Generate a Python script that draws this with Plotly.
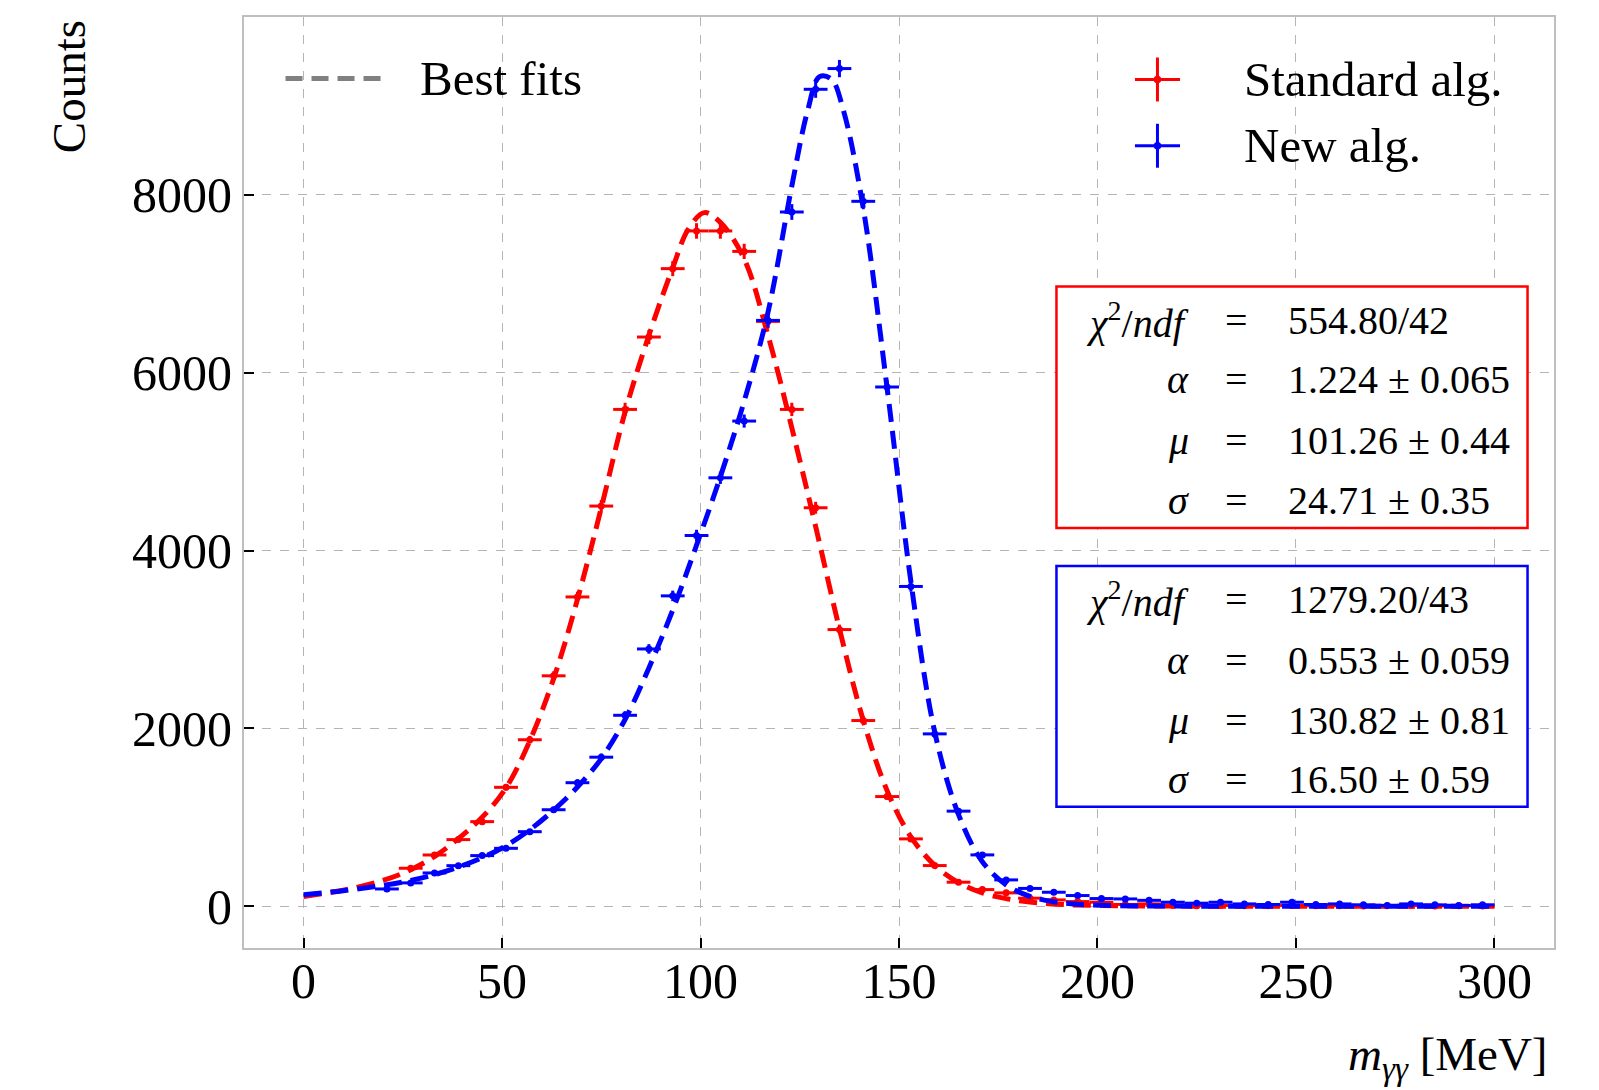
import numpy as np
import plotly.graph_objects as go

# ---------------- data ----------------
red_x = [27, 33, 39, 45, 51, 57, 63, 69, 75, 81, 87, 93, 99, 105, 111, 117, 123, 129, 135, 141,
         147, 153, 159, 165, 171, 177, 183, 189, 195, 201, 207, 213, 219, 225, 231, 237, 243, 249,
         255, 261, 267, 273, 279, 285, 291, 297]
red_counts = [427, 576, 749, 951, 1337, 1872, 2591, 3478, 4500, 5587, 6401, 7170, 7594, 7594, 7364,
              6577, 5587, 4481, 3111, 2088, 1233, 757, 457, 270, 187, 150, 90, 71, 52, 45, 20, 26,
              8, 6, 8, 4, 6, 8, 4, 6, 3, 5, 8, 3, 4, 2]

blue_x = [21, 27, 33, 39, 45, 51, 57, 63, 69, 75, 81, 87, 93, 99, 105, 111, 117, 123, 129, 135,
          141, 147, 153, 159, 165, 171, 177, 183, 189, 195, 201, 207, 213, 219, 225, 231, 237, 243,
          249, 255, 261, 267, 273, 279, 285, 291, 297]
blue_counts = [194, 262, 374, 456, 569, 651, 838, 1085, 1389, 1676, 2147, 2893, 3490, 4169, 4818,
               5456, 6588, 7807, 9187, 9420, 7927, 5839, 3596, 1938, 1069, 577, 296, 200, 157, 120,
               86, 82, 66, 45, 34, 45, 26, 19, 45, 19, 26, 15, 8, 26, 15, 8, 15]

bin_half_width = 3  # MeV

# best-fit curves
red_fit_x = [0, 10, 20, 27, 33, 39, 45, 51, 57, 63, 69, 75, 81, 87, 93, 97, 101, 105, 111, 117,
             123, 129, 135, 141, 147, 153, 159, 165, 171, 177, 183, 190, 200, 215, 240, 270, 300]
red_fit_y = [110, 180, 290, 410, 560, 760, 1000, 1330, 1860, 2560, 3450, 4480, 5560, 6420, 7180,
             7620, 7800, 7690, 7280, 6420, 5380, 4270, 3120, 2090, 1300, 780, 460, 265, 150, 85,
             48, 22, 8, 2, 0, 0, 0]

blue_fit_x = [0, 10, 20, 27, 33, 39, 45, 51, 57, 63, 69, 75, 81, 87, 93, 99, 105, 111, 117, 123,
              127, 130, 133, 136, 141, 147, 153, 159, 165, 171, 177, 183, 189, 195, 205, 220, 250, 300]
blue_fit_y = [130, 175, 235, 290, 355, 440, 545, 680, 860, 1080, 1340, 1660, 2100, 2680, 3330,
              4060, 4830, 5680, 6680, 8100, 8950, 9330, 9300, 8950, 7850, 5830, 3650, 1960, 1030,
              500, 240, 110, 50, 22, 6, 1, 0, 0]

x_ticks = [0, 50, 100, 150, 200, 250, 300]
y_ticks = [0, 2000, 4000, 6000, 8000]

red_stats = [("<i>χ</i><sup>2</sup>/<i>ndf</i>", "554.80/42"),
             ("<i>α</i>", "1.224 ± 0.065"),
             ("<i>μ</i>", "101.26 ± 0.44"),
             ("<i>σ</i>", "24.71 ± 0.35")]
blue_stats = [("<i>χ</i><sup>2</sup>/<i>ndf</i>", "1279.20/43"),
              ("<i>α</i>", "0.553 ± 0.059"),
              ("<i>μ</i>", "130.82 ± 0.81"),
              ("<i>σ</i>", "16.50 ± 0.59")]

# ---------------- figure ----------------
FONT = "Liberation Serif"
RED = "#ff0000"
BLUE = "#0000ff"

fig = go.Figure()


def add_points(x, y, color, name):
    fig.add_trace(go.Scatter(
        x=x, y=y, mode="markers", name=name,
        marker=dict(color=color, size=7),
        error_x=dict(type="constant", value=bin_half_width, thickness=3, width=0, color=color),
        error_y=dict(type="data", array=np.sqrt(np.array(y, dtype=float)), thickness=3, width=0,
                     color=color),
        showlegend=False))


def add_fit(x, y, color):
    fig.add_trace(go.Scatter(
        x=x, y=y, mode="lines",
        line=dict(color=color, width=5, dash="18px,9px", shape="spline", smoothing=1.0),
        showlegend=False, hoverinfo="skip"))


add_points(red_x, red_counts, RED, "Standard alg.")
add_fit(red_fit_x, red_fit_y, RED)
add_points(blue_x, blue_counts, BLUE, "New alg.")
add_fit(blue_fit_x, blue_fit_y, BLUE)

axis_common = dict(
    showgrid=True, gridcolor="#b4b4b4", gridwidth=1, griddash="dash",
    zeroline=False, showline=True, linecolor="#bfbfbf", linewidth=2, mirror=True,
    ticks="inside", ticklen=10, tickwidth=2, tickcolor="black",
    tickfont=dict(family=FONT, size=50, color="black"),
)

fig.update_layout(
    width=1599, height=1090,
    margin=dict(l=244, r=45, t=17, b=142, autoexpand=False),
    paper_bgcolor="white", plot_bgcolor="white",
    font=dict(family=FONT, color="black"),
    showlegend=False,
    xaxis=dict(range=[-15, 315], tickvals=x_ticks, ticktext=[str(v) for v in x_ticks],
               ticklabelstandoff=-12, **axis_common),
    yaxis=dict(range=[-470, 10000], tickvals=y_ticks, ticktext=[str(v) for v in y_ticks],
               **axis_common),
)

annotations = []
shapes = []

# axis titles
annotations.append(dict(text="Counts", xref="paper", yref="paper", x=-0.1330, y=0.999,
                        xanchor="center", yanchor="top", textangle=-90, showarrow=False,
                        font=dict(family=FONT, size=47)))
annotations.append(dict(text="<i>m</i><sub><i>γγ</i></sub> [MeV]", xref="paper", yref="paper",
                        x=0.997, y=-0.118, xanchor="right", yanchor="middle", showarrow=False,
                        font=dict(family=FONT, size=47)))

# legend: best fits
shapes.append(dict(type="line", xref="paper", yref="paper", x0=0.0317, x1=0.1056, y0=0.934,
                   y1=0.934, line=dict(color="#808080", width=5, dash="17px,9px")))
annotations.append(dict(text="Best fits", xref="paper", yref="paper", x=0.1328, y=0.934,
                        xanchor="left", yanchor="middle", showarrow=False,
                        font=dict(family=FONT, size=49)))

# legend: data series
for yc, color, label in [(0.9329, RED, "Standard alg."), (0.8617, BLUE, "New alg.")]:
    xc = 0.6973
    shapes.append(dict(type="line", xref="paper", yref="paper", x0=xc - 0.0172, x1=xc + 0.0172,
                       y0=yc, y1=yc, line=dict(color=color, width=3)))
    shapes.append(dict(type="line", xref="paper", yref="paper", x0=xc, x1=xc,
                       y0=yc - 0.0236, y1=yc + 0.0236, line=dict(color=color, width=3)))
    shapes.append(dict(type="circle", xref="paper", yref="paper", x0=xc - 0.0029, x1=xc + 0.0029,
                       y0=yc - 0.0041, y1=yc + 0.0041, fillcolor=color, line=dict(color=color, width=0)))
    annotations.append(dict(text=label, xref="paper", yref="paper", x=0.7618, y=yc,
                            xanchor="left", yanchor="middle", showarrow=False,
                            font=dict(family=FONT, size=49)))

# fit-result boxes
boxes = [(red_stats, RED, 0.4511, 0.7104, [0.6745, 0.6101, 0.5451, 0.4812]),
         (blue_stats, BLUE, 0.1518, 0.4103, [0.3738, 0.3093, 0.2444, 0.1805])]
for stats, color, y0, y1, rows in boxes:
    shapes.append(dict(type="rect", xref="paper", yref="paper", x0=0.6202, x1=0.9798, y0=y0,
                       y1=y1, line=dict(color=color, width=2.5), fillcolor="white", layer="above"))
    for (sym, val), yr in zip(stats, rows):
        annotations.append(dict(text=sym, xref="paper", yref="paper", x=0.7230, y=yr,
                                xanchor="right", yanchor="middle", showarrow=False,
                                font=dict(family=FONT, size=40)))
        annotations.append(dict(text="=", xref="paper", yref="paper", x=0.7580, y=yr,
                                xanchor="center", yanchor="middle", showarrow=False,
                                font=dict(family=FONT, size=40)))
        annotations.append(dict(text=val, xref="paper", yref="paper", x=0.7955, y=yr,
                                xanchor="left", yanchor="middle", showarrow=False,
                                font=dict(family=FONT, size=40)))

fig.update_layout(annotations=annotations, shapes=shapes)

fig.write_html("out.html")
